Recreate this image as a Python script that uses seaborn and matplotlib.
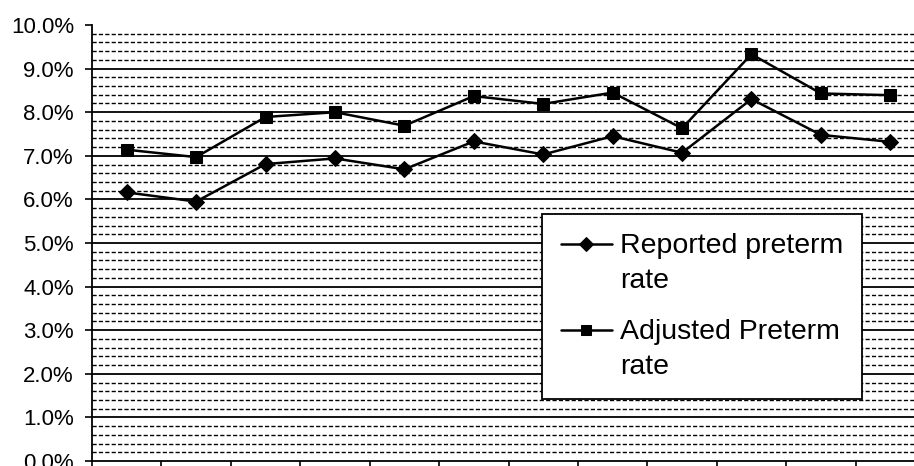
import matplotlib
matplotlib.use("Agg")
import matplotlib.pyplot as plt
import numpy as np
import pandas as pd
import seaborn as sns
from matplotlib.ticker import FixedLocator, FuncFormatter, MultipleLocator

# Valeurs (en %)
periods = list(range(12))
reported_rate = [6.16, 5.95, 6.81, 6.94, 6.69, 7.33, 7.03, 7.45, 7.07, 8.30, 7.48, 7.32]
adjusted_rate = [7.14, 6.97, 7.89, 8.00, 7.69, 8.37, 8.19, 8.45, 7.63, 9.33, 8.43, 8.39]
series_names = ["Reported preterm\nrate", "Adjusted Preterm\nrate"]

sns.set_style("white")
plt.rcParams["font.family"] = ["Liberation Sans", "DejaVu Sans"]
plt.rcParams["text.color"] = "black"
plt.rcParams["ytick.color"] = "black"
plt.rcParams["xtick.color"] = "black"

df = pd.DataFrame({
    "period": periods * 2,
    "rate": reported_rate + adjusted_rate,
    "series": [series_names[0]] * len(periods) + [series_names[1]] * len(periods),
})

fig = plt.figure(figsize=(9.14, 4.66), dpi=100)
ax = fig.add_axes([92 / 914, 5 / 466, 822 / 914, 436 / 466])

# Grille : traits pleins tous les 1 %, pointillés tous les 0,2 %
for y in np.arange(0.2, 10.0, 0.2):
    if abs(y - round(y)) < 1e-6:
        ax.axhline(y, color="black", lw=1.3, zorder=1)
    else:
        ax.axhline(y, color="black", lw=1.0, dashes=(3.0, 1.6), zorder=1)

sns.lineplot(
    data=df, x="period", y="rate", style="series", markers={series_names[0]: "D", series_names[1]: "s"},
    dashes=False, color="black", linewidth=1.8, markersize=8, markeredgecolor="black", ax=ax, zorder=3,
)

ax.set_ylim(0, 10)
ax.set_xlim(-0.5, 11.5 - 11 / 69.4)
ax.yaxis.set_major_locator(MultipleLocator(1))
ax.yaxis.set_major_formatter(FuncFormatter(lambda v, _: f"{v:.1f}%"))
ax.xaxis.set_major_locator(FixedLocator(np.arange(-0.5, 12, 1)))
ax.set_xticklabels([])
ax.set_xlabel("")
ax.set_ylabel("")
ax.tick_params(axis="y", direction="out", length=5, width=1.2, labelsize=16, left=True, color="black",
               labelcolor="black", pad=8)
ax.tick_params(axis="x", direction="out", length=4, width=1.2, bottom=True, color="black")

for side in ["top", "right"]:
    ax.spines[side].set_visible(False)
for side in ["left", "bottom"]:
    ax.spines[side].set_color("black")
    ax.spines[side].set_linewidth(1.3)

leg = ax.legend(
    loc="upper left", bbox_to_anchor=(542 / 914, 1 - 214 / 466), bbox_transform=fig.transFigure,
    fontsize=20.5, frameon=True, fancybox=False, shadow=False, handlelength=1.8, handletextpad=0.3,
    labelspacing=0.9, borderpad=0.65, borderaxespad=0, handleheight=1.0, title=None,
)
leg.get_frame().set_edgecolor("black")
leg.get_frame().set_linewidth(1.3)
leg.get_frame().set_alpha(1)
for h in leg.legend_handles:
    h.set_markersize(7)
    h.set_linewidth(1.8)
for t in leg.get_texts():
    t.set_color("black")
    t.set_linespacing(1.45)
# le symbole s'aligne sur la première ligne du libellé
for column in leg._legend_handle_box.get_children():
    for row in column.get_children():
        row.align = "top"

fig.savefig("out.png", dpi=100)
